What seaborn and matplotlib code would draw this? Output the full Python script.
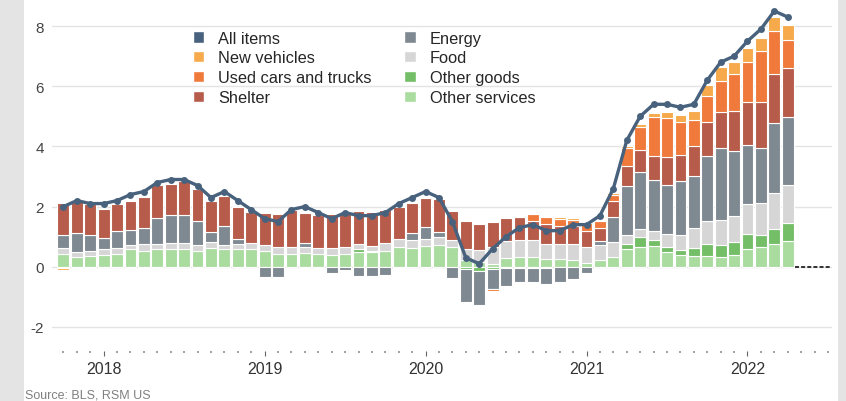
import matplotlib
matplotlib.use("Agg")
import matplotlib.pyplot as plt
from matplotlib.patches import Patch, Rectangle
import numpy as np
import pandas as pd
import seaborn as sns

# monthly, Oct 2017 .. Apr 2022 (year-over-year %, contributions in pct points)
months = pd.period_range("2017-10", "2022-04", freq="M")

all_items = [2.0, 2.2, 2.1, 2.1, 2.2, 2.4, 2.5, 2.8, 2.9, 2.9, 2.7, 2.3,
             2.5, 2.2, 1.9, 1.6, 1.5, 1.9, 2.0, 1.8, 1.6, 1.8, 1.7, 1.7,
             1.8, 2.1, 2.3, 2.5, 2.3, 1.5, 0.3, 0.1, 0.6, 1.0, 1.3, 1.4,
             1.2, 1.2, 1.4, 1.4, 1.7, 2.6, 4.2, 5.0, 5.4, 5.4, 5.3, 5.4,
             6.2, 6.8, 7.0, 7.5, 7.9, 8.5, 8.3]

other_services = [0.41, 0.33, 0.37, 0.40, 0.44, 0.58, 0.54, 0.58, 0.60, 0.60, 0.54, 0.63,
                  0.58, 0.58, 0.60, 0.54, 0.41, 0.43, 0.47, 0.43, 0.40, 0.43, 0.49, 0.49,
                  0.52, 0.65, 0.62, 0.69, 0.73, 0.65, 0.21, 0.15, 0.10, 0.30, 0.33, 0.33,
                  0.25, 0.25, 0.22, 0.14, 0.22, 0.33, 0.58, 0.65, 0.69, 0.49, 0.40, 0.35,
                  0.35, 0.31, 0.38, 0.60, 0.65, 0.76, 0.85]
other_goods = [-0.04, -0.03, -0.03, -0.02, -0.02, 0.0, 0.0, 0.0, 0.0, 0.0, -0.04, 0.0,
               0.0, 0.0, 0.0, 0.0, 0.0, 0.0, -0.03, -0.03, 0.0, 0.0, 0.10, 0.04,
               0.0, 0.0, 0.0, 0.0, 0.0, 0.0, -0.08, -0.15, -0.09, -0.04, -0.03, -0.04,
               -0.04, -0.02, 0.0, 0.0, 0.0, 0.0, 0.17, 0.33, 0.20, 0.17, 0.16, 0.28,
               0.42, 0.40, 0.45, 0.50, 0.41, 0.50, 0.62]
food = [0.20, 0.15, 0.17, 0.20, 0.18, 0.15, 0.20, 0.19, 0.18, 0.18, 0.17, 0.18,
        0.13, 0.17, 0.19, 0.17, 0.24, 0.24, 0.18, 0.19, 0.22, 0.22, 0.17, 0.17,
        0.28, 0.27, 0.28, 0.22, 0.25, 0.24, 0.37, 0.42, 0.55, 0.57, 0.57, 0.55,
        0.52, 0.50, 0.52, 0.53, 0.49, 0.50, 0.30, 0.28, 0.31, 0.44, 0.48, 0.65,
        0.75, 0.85, 0.85, 1.00, 1.05, 1.18, 1.25]
energy = [0.43, 0.65, 0.50, 0.36, 0.56, 0.50, 0.56, 0.85, 0.93, 0.93, 0.80, 0.34,
          0.66, 0.17, 0.0, -0.33, -0.33, 0.0, 0.13, 0.0, -0.20, -0.12, -0.30, -0.30,
          -0.28, -0.05, 0.22, 0.42, 0.17, -0.37, -1.10, -1.13, -0.65, -0.60, -0.47, -0.47,
          -0.53, -0.50, -0.42, -0.22, 0.14, 0.82, 1.63, 1.88, 1.68, 1.63, 1.80, 1.75,
          2.16, 2.38, 2.16, 1.96, 1.84, 2.33, 2.25]
shelter = [1.07, 1.05, 1.05, 0.95, 0.90, 0.95, 1.03, 1.10, 1.05, 1.13, 1.08, 1.04,
           0.97, 1.07, 1.02, 1.07, 1.10, 1.20, 1.02, 1.10, 1.15, 1.15, 1.10, 1.13,
           1.10, 1.05, 1.00, 0.97, 1.10, 0.95, 0.95, 0.85, 0.85, 0.75, 0.75, 0.64,
           0.64, 0.60, 0.60, 0.53, 0.45, 0.53, 0.66, 0.73, 0.80, 0.91, 0.89, 1.00,
           1.12, 1.22, 1.33, 1.40, 1.53, 1.63, 1.64]
used_cars = [0.0, 0.0, 0.0, 0.0, 0.0, 0.0, 0.0, -0.05, 0.0, 0.0, 0.0, 0.0,
             0.0, 0.0, 0.0, 0.0, 0.0, 0.0, 0.0, 0.0, 0.0, 0.0, 0.0, 0.0,
             0.0, 0.0, 0.0, 0.0, 0.0, 0.0, 0.0, 0.0, -0.05, 0.0, 0.05, 0.23,
             0.25, 0.25, 0.22, 0.26, 0.21, 0.21, 0.61, 0.78, 1.31, 1.30, 1.07, 0.84,
             0.86, 1.02, 1.24, 1.35, 1.68, 1.43, 0.92]
new_vehicles = [-0.06, 0.0, 0.0, 0.0, 0.0, -0.04, -0.04, 0.0, 0.0, 0.0, 0.0, 0.0,
                0.0, 0.0, 0.0, 0.0, 0.0, 0.0, 0.0, 0.0, 0.0, 0.0, 0.0, 0.0,
                0.0, 0.0, 0.0, 0.0, 0.0, 0.0, 0.0, 0.0, 0.0, 0.0, 0.03, 0.04,
                0.04, 0.04, 0.05, 0.03, 0.02, 0.05, 0.05, 0.10, 0.12, 0.19, 0.24, 0.31,
                0.39, 0.47, 0.39, 0.47, 0.44, 0.47, 0.50]

# stacking order, bottom -> top
components = [
    ("Other services", other_services, "#aadca0"),
    ("Other goods", other_goods, "#74be68"),
    ("Food", food, "#d6d6d6"),
    ("Energy", energy, "#7f8991"),
    ("Shelter", shelter, "#b75b4b"),
    ("Used cars and trucks", used_cars, "#f07a3c"),
    ("New vehicles", new_vehicles, "#f6aa4b"),
]
line_color = "#48627d"

sns.set_theme(style="white")
plt.rcParams["font.family"] = ["Liberation Sans", "DejaVu Sans"]
plt.rcParams["axes.unicode_minus"] = False

fig = plt.figure(figsize=(8.46, 4.02), dpi=100, facecolor="#e4e4e4")
fig.patches.append(Rectangle((24 / 846, 0), (838 - 24) / 846, 1,
                             transform=fig.transFigure, facecolor="white",
                             edgecolor="none", zorder=-10))
ax = fig.add_axes([52 / 846, 1 - 352 / 402, 780 / 846, 349 / 402])
ax.set_facecolor("none")

x = np.arange(len(months))
pos_base = np.zeros(len(x))
neg_base = np.zeros(len(x))
for name, vals, color in components:
    v = np.asarray(vals, dtype=float)
    pos = np.where(v > 0, v, 0.0)
    neg = np.where(v < 0, v, 0.0)
    m = pos > 0
    ax.bar(x[m], pos[m], bottom=pos_base[m], width=0.88, color=color,
           edgecolor="white", linewidth=0.8, zorder=2)
    m = neg < 0
    ax.bar(x[m], neg[m], bottom=neg_base[m], width=0.88, color=color,
           edgecolor="white", linewidth=0.8, zorder=2)
    pos_base += pos
    neg_base += neg

sns.lineplot(x=x, y=all_items, ax=ax, color=line_color, linewidth=2.4,
             marker="o", markersize=5, markeredgewidth=0, zorder=4)

# dashed zero marker past the last month
ax.hlines(0, x[-1] + 0.55, 57.2, colors="#222222", linestyles=(0, (2.2, 1.2)),
          linewidth=1.3, zorder=3)

ax.set_xlim(-0.85, 57.3)
ax.set_ylim(-2.8, 8.8)
ax.set_yticks([-2, 0, 2, 4, 6, 8])
ax.yaxis.grid(True, color="#e4e4e4", linewidth=1.0, zorder=0)
ax.set_axisbelow(True)
for s in ax.spines.values():
    s.set_visible(False)

year_idx = [i for i, p in enumerate(months) if p.month == 1]
ax.set_xticks(year_idx)
ax.set_xticklabels([str(months[i].year) for i in year_idx],
                   family=["Liberation Sans Narrow", "Liberation Sans", "DejaVu Sans"],
                   fontsize=11.5, color="#333333")
ax.set_xticks(np.arange(0, 58), minor=True)
ax.tick_params(axis="x", which="both", bottom=True)
ax.tick_params(axis="x", which="major", length=3.5, width=0.8, color="#666666",
               pad=4, direction="out")
ax.tick_params(axis="x", which="minor", length=1.2, width=1.1, color="#888888")
ax.tick_params(axis="y", length=0, pad=6, labelsize=11, labelcolor="#444444")

handles = [Patch(facecolor=line_color, label="All items")]
order = ["New vehicles", "Used cars and trucks", "Shelter", "Energy", "Food",
         "Other goods", "Other services"]
cmap = {n: c for n, _, c in components}
handles += [Patch(facecolor=cmap[n], label=n) for n in order]
ax.legend(handles=handles, ncol=2, loc="upper left",
          bbox_to_anchor=(0.172, 0.937), frameon=False, fontsize=11.8,
          handlelength=0.7, handleheight=0.7, handletextpad=0.85,
          columnspacing=2.0, labelspacing=0.3, borderaxespad=0)

fig.text(25 / 846, 6 / 402, "Source: BLS, RSM US", fontsize=9, color="#808080",
         va="center", ha="left")

fig.savefig("out.png", dpi=100, facecolor=fig.get_facecolor())
